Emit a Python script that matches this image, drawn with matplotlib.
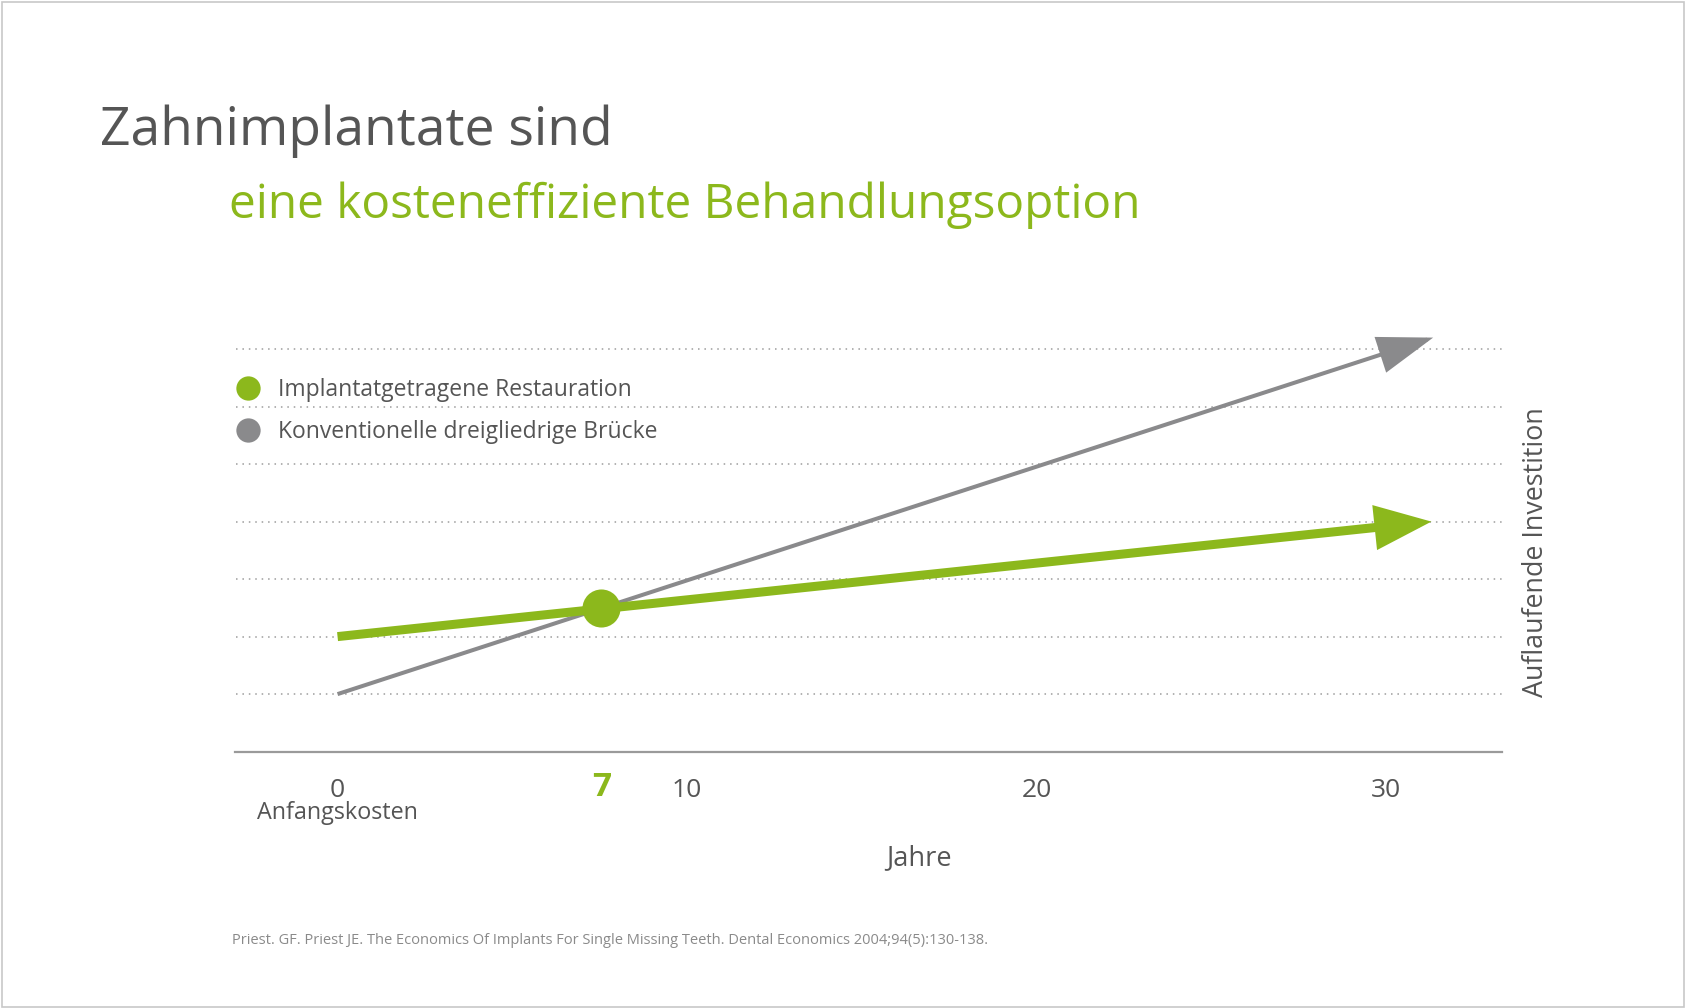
import matplotlib
matplotlib.use("Agg")
import matplotlib.pyplot as plt
from matplotlib.patches import FancyArrowPatch, Rectangle
from matplotlib.lines import Line2D

# ---- data ----
series_names = ["Implantatgetragene Restauration", "Konventionelle dreigliedrige Brücke"]
implant_years = [0, 31.3]
implant_cost = [2.0, 4.0]
bridge_years = [0, 31.35]
bridge_cost = [1.0, 7.2]
breakeven_year = 7.55
breakeven_cost = 2.49
breakeven_label = "7"
xtick_values = [0, 10, 20, 30]
xtick_labels = ["0", "10", "20", "30"]
grid_levels = [1, 2, 3, 4, 5, 6, 7]

GREEN = "#8cb81c"
GRAY_LINE = "#8a8a8c"
TEXT = "#555555"
FONT = "Open Sans"

W, H = 1686, 1008
fig = plt.figure(figsize=(W / 100, H / 100), dpi=100)
fig.patch.set_facecolor("white")
fig.patches.append(Rectangle((0.001, 0.001), 0.998, 0.997, transform=fig.transFigure,
                             fill=False, edgecolor="#c8c8c8", linewidth=1.2))

# axes placement
left_px, right_px = 235.5, 1502.0
axis_px, unit_px = 751.6, 57.5
ymax = 8.0
ax = fig.add_axes([left_px / W, 1 - axis_px / H, (right_px - left_px) / W, ymax * unit_px / H])
ax.set_xlim(-2.92, 33.32)
ax.set_ylim(0, ymax)
for s in ["top", "left", "right"]:
    ax.spines[s].set_visible(False)
ax.spines["bottom"].set_color("#9a9a9a")
ax.spines["bottom"].set_linewidth(1.6)
ax.set_yticks([])
ax.set_xticks(xtick_values)
ax.set_xticklabels(xtick_labels, fontfamily=FONT, fontsize=19, color=TEXT)
ax.tick_params(axis="x", length=0, pad=19)
for g in grid_levels:
    ax.axhline(g, color="#9c9c9c", linestyle=(0, (1, 3.2)), linewidth=1.1, zorder=0)

# lines with arrows
bridge_arrow = FancyArrowPatch((bridge_years[0], bridge_cost[0]), (bridge_years[1], bridge_cost[1]),
                               arrowstyle="-|>,head_length=34,head_width=11.5",
                               mutation_scale=1, shrinkA=0, shrinkB=0,
                               color=GRAY_LINE, linewidth=2.9, capstyle="butt", joinstyle="miter", zorder=3)
ax.add_patch(bridge_arrow)
implant_arrow = FancyArrowPatch((implant_years[0], implant_cost[0]), (implant_years[1], implant_cost[1]),
                                arrowstyle="-|>,head_length=29,head_width=11.5",
                                mutation_scale=1, shrinkA=0, shrinkB=0,
                                color=GREEN, linewidth=6.5, capstyle="butt", joinstyle="miter", zorder=4)
ax.add_patch(implant_arrow)
ax.scatter([breakeven_year], [breakeven_cost], s=38 ** 2 * 0.52, color=GREEN, zorder=5, linewidths=0)

# breakeven label
ax.text(breakeven_year, -0.62, breakeven_label, ha="center", va="center", fontfamily=FONT,
        fontsize=24, fontweight="bold", color=GREEN)
ax.text(0, -1.07, "Anfangskosten", ha="center", va="center", fontfamily=FONT, fontsize=16.8, color=TEXT)
ax.text(16.65, -1.85, "Jahre", ha="center", va="center", fontfamily=FONT, fontsize=19.5, color=TEXT)

# legend
handles = [Line2D([], [], marker="o", linestyle="", markersize=17.5, color=GREEN, markeredgewidth=0),
           Line2D([], [], marker="o", linestyle="", markersize=17.5, color=GRAY_LINE, markeredgewidth=0)]
leg = ax.legend(handles, series_names, loc="upper left", bbox_to_anchor=(-0.008, 0.833),
                frameon=False, prop={"family": FONT, "size": 16.5}, labelcolor=TEXT,
                handletextpad=0.68, labelspacing=0.82, borderaxespad=0, handlelength=1.2)

# right axis label
fig.text(1536 / W, 1 - 552 / H, "Auflaufende Investition", rotation=90, ha="center", va="center",
         fontfamily=FONT, fontsize=19.4, color=TEXT)

# titles
fig.text(100 / W, 1 - 145 / H, "Zahnimplantate sind", ha="left", va="baseline",
         fontfamily=FONT, fontsize=38.4, color=TEXT)
fig.text(229 / W, 1 - 218 / H, "eine kosteneffiziente Behandlungsoption", ha="left", va="baseline",
         fontfamily=FONT, fontsize=34.4, color=GREEN)

# footnote
fig.text(232 / W, 1 - 940 / H,
         "Priest. GF. Priest JE. The Economics Of Implants For Single Missing Teeth. Dental Economics 2004;94(5):130-138.",
         ha="left", va="center", fontfamily=FONT, fontsize=10.5, color="#8a8a8a")

fig.savefig("out.png", dpi=100, facecolor="white")
